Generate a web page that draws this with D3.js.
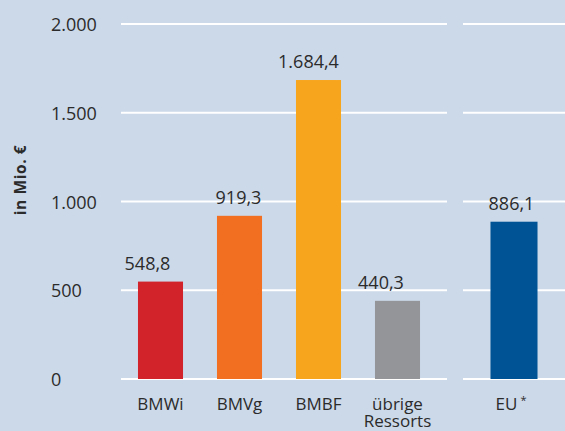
<!DOCTYPE html>
<html>
<head>
<meta charset="utf-8">
<script src="https://cdn.jsdelivr.net/npm/d3@7"></script>
<style>
  html, body { margin: 0; padding: 0; background: #cbd9e9; }
  svg { display: block; }
  text { font-family: "Open Sans", "Noto Sans", sans-serif; fill: #2b2b2b; }
</style>
</head>
<body>
<svg id="chart" width="565" height="431"></svg>
<script>
// ---- data ----
const categories = ["BMWi", "BMVg", "BMBF", "übrige Ressorts"];
const values = [548.8, 919.3, 1684.4, 440.3];
const euCategory = ["EU"];
const euValues = [886.1];
const valueLabels = ["548,8", "919,3", "1.684,4", "440,3"];
const euValueLabels = ["886,1"];
const yTicks = [0, 500, 1000, 1500, 2000];
const yTickLabels = ["0", "500", "1.000", "1.500", "2.000"];
const yTitle = "in Mio. €";

// ---- styling / layout ----
const colors = ["#d2232a", "#f26f21", "#f7a51d", "#939598"];
const euColor = "#005495";
const labelNudge = [-13, -1, -10, -16.5]; // value label horizontal offsets as in reference
const euLabelNudge = [-2.5];

const svg = d3.select("#chart");

const y = d3.scaleLinear().domain([0, 2000]).range([379, 24]);

const x1 = d3.scaleBand().domain(categories).range([121, 437])
  .paddingInner(0.43).paddingOuter(0.215);
const x2 = d3.scaleBand().domain(euCategory).range([463, 565]).padding(0.369);

// gridlines (two segments)
const grid = svg.append("g");
[[121, 447], [463, 565]].forEach(([a, b]) => {
  grid.selectAll(null).data(yTicks).enter().append("line")
    .attr("x1", a).attr("x2", b)
    .attr("y1", d => y(d)).attr("y2", d => y(d))
    .attr("stroke", "#ffffff").attr("stroke-width", 2.2);
});

// tick labels
svg.append("g").selectAll("text").data(yTicks).enter().append("text")
  .attr("x", 51).attr("y", d => y(d) + 7)
  .attr("font-size", 18)
  .text((d, i) => yTickLabels[i]);

// y title
svg.append("text")
  .attr("transform", "translate(25.5,180) rotate(-90)")
  .attr("text-anchor", "middle")
  .attr("font-size", 15.5).attr("font-weight", "bold")
  .attr("letter-spacing", 0.6)
  .text(yTitle);

// bars
svg.append("g").selectAll("rect").data(values).enter().append("rect")
  .attr("x", (d, i) => x1(categories[i]))
  .attr("width", x1.bandwidth())
  .attr("y", d => y(d))
  .attr("height", d => y(0) - y(d))
  .attr("fill", (d, i) => colors[i]);

svg.append("g").selectAll("rect").data(euValues).enter().append("rect")
  .attr("x", (d, i) => x2(euCategory[i]))
  .attr("width", x2.bandwidth())
  .attr("y", d => y(d))
  .attr("height", d => y(0) - y(d))
  .attr("fill", euColor);

// value labels
svg.append("g").selectAll("text").data(values).enter().append("text")
  .attr("x", (d, i) => x1(categories[i]) + x1.bandwidth() / 2 + labelNudge[i])
  .attr("y", d => y(d) - 12)
  .attr("text-anchor", "middle").attr("font-size", 18)
  .text((d, i) => valueLabels[i]);

svg.append("g").selectAll("text").data(euValues).enter().append("text")
  .attr("x", (d, i) => x2(euCategory[i]) + x2.bandwidth() / 2 + euLabelNudge[i])
  .attr("y", d => y(d) - 12)
  .attr("text-anchor", "middle").attr("font-size", 18)
  .text((d, i) => euValueLabels[i]);

// category labels
const catG = svg.append("g");
categories.forEach((c, i) => {
  const cx = x1(c) + x1.bandwidth() / 2;
  c.split(" ").forEach((w, j) => {
    catG.append("text")
      .attr("x", cx)
      .attr("y", 409.5 + j * 17.5)
      .attr("text-anchor", "middle").attr("font-size", 17)
      .text(w);
  });
});

euCategory.forEach(c => {
  const t = catG.append("text")
    .attr("x", x2(c) + x2.bandwidth() / 2 - 3)
    .attr("y", 409.5)
    .attr("text-anchor", "middle").attr("font-size", 17);
  t.append("tspan").text(c);
  t.append("tspan").attr("font-size", 11).attr("dy", -6).attr("dx", 3).text("*");
});
</script>
</body>
</html>
